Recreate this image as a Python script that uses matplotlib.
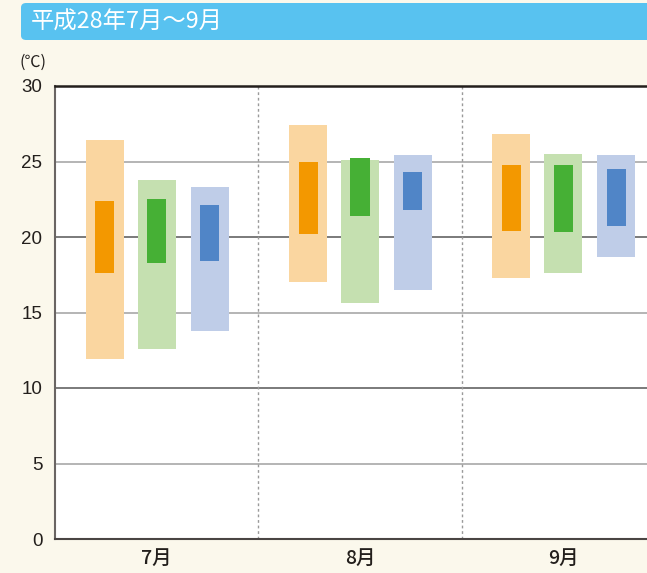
import numpy as np
import matplotlib.pyplot as plt
from matplotlib.patches import FancyBboxPatch

plt.rcParams['font.family'] = ['Liberation Sans', 'Noto Sans CJK JP', 'DejaVu Sans']

# data (degC)
months = ["7月", "8月", "9月"]
# outer (light) ranges: low, high per series
orange_range = [(11.9, 26.4), (17.0, 27.4), (17.3, 26.8)]
green_range = [(12.6, 23.8), (15.6, 25.1), (17.6, 25.5)]
blue_range = [(13.8, 23.3), (16.5, 25.4), (18.7, 25.4)]
# inner (dark) ranges
orange_core = [(17.6, 22.4), (20.2, 25.0), (20.4, 24.8)]
green_core = [(18.3, 22.5), (21.4, 25.2), (20.3, 24.8)]
blue_core = [(18.4, 22.1), (21.8, 24.3), (20.7, 24.5)]

yticks = [0, 5, 10, 15, 20, 25, 30]

bg = "#fbf8ec"
series = [
    (orange_range, orange_core, "#fad6a0", "#f39800", -0.255),
    (green_range, green_core, "#c5e0b0", "#46b035", 0.0),
    (blue_range, blue_core, "#bfcde8", "#5085c7", 0.26),
]

fig = plt.figure(figsize=(6.47, 5.73), dpi=100, facecolor=bg)

# title bar
bar = FancyBboxPatch((21 / 647, 1 - 40 / 573), 0.99, 37 / 573,
                     boxstyle="round,pad=0,rounding_size=0.008",
                     transform=fig.transFigure, facecolor="#58c2f0",
                     edgecolor="none", clip_on=False)
fig.patches.append(bar)
fig.text(31 / 647, 1 - 22 / 573, "平成28年7月～9月", color="white",
         fontsize=16.8, va="center", ha="left",
         family=['Noto Sans CJK JP', 'DejaVu Sans'])
fig.text(33 / 647, 1 - 62 / 573, "(℃)", fontsize=11.5, ha="center", va="center",
         color="#231f1c", family=['Noto Sans CJK JP', 'DejaVu Sans'])

ax = fig.add_axes([55 / 647, 34 / 573, 610 / 647, 453 / 573])
ax.set_facecolor("white")
x = np.arange(len(months))

for rng, core, light, dark, off in series:
    lo = np.array([r[0] for r in rng])
    hi = np.array([r[1] for r in rng])
    ax.bar(x + off, hi - lo, bottom=lo, width=0.187, color=light, zorder=3)
    clo = np.array([c[0] for c in core])
    chi = np.array([c[1] for c in core])
    ax.bar(x + off, chi - clo, bottom=clo, width=0.094, color=dark, zorder=4)

for t in yticks[1:-1]:
    c = "#7a7a7a" if t % 10 == 0 else "#b4b4b4"
    ax.axhline(t, color=c, lw=1.4, zorder=1)

for sep in [0.5, 1.5]:
    ax.axvline(sep, color="#9a9a9a", lw=1.0, ls=(0, (2, 2)), zorder=2)

ax.set_xlim(-0.5, 2.5)
ax.set_ylim(0, 30)
ax.set_yticks(yticks)
ax.set_yticklabels([str(t) for t in yticks], fontsize=13.5, color="#231f1c")
ax.set_xticks(x)
ax.set_xticklabels(months, fontsize=14, color="#231f1c",
                   family=['Noto Sans CJK JP', 'DejaVu Sans'], fontweight="medium")
ax.tick_params(length=0, axis="y", pad=9)
ax.tick_params(length=0, axis="x", pad=7)

ax.spines["top"].set_color("#231f1c")
ax.spines["top"].set_linewidth(1.8)
ax.spines["bottom"].set_color("#4a4543")
ax.spines["bottom"].set_linewidth(1.5)
ax.spines["left"].set_color("#6a6563")
ax.spines["left"].set_linewidth(1.5)
ax.spines["right"].set_visible(False)

fig.savefig("out.png", dpi=100, facecolor=bg)
